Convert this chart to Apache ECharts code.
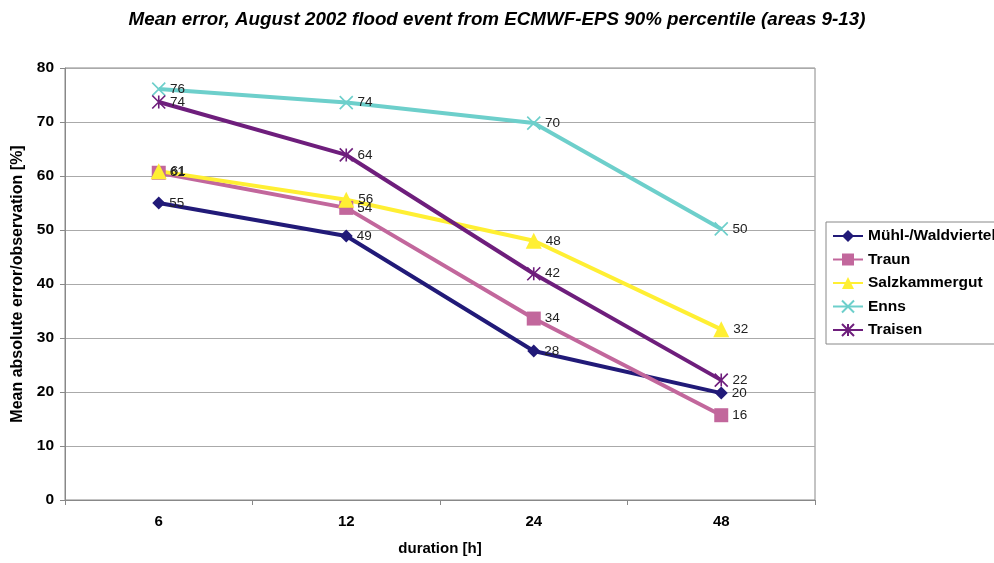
<!DOCTYPE html>
<html>
<head>
<meta charset="utf-8">
<script src="https://cdn.jsdelivr.net/npm/echarts@6/dist/echarts.min.js"></script>
<style>html,body{margin:0;padding:0;background:#fff;}#c{width:994px;height:563px;}</style>
</head>
<body>
<div id="c"></div>
<script>
var categories = ['6', '12', '24', '48'];
var muehl = [55.0, 48.9, 27.6, 19.8];
var traun = [60.6, 54.1, 33.6, 15.7];
var salz = [60.9, 55.6, 48.0, 31.6];
var enns = [76.1, 73.6, 69.8, 50.2];
var traisen = [73.7, 63.9, 41.9, 22.2];
var seriesNames = ['Mühl-/Waldviertel', 'Traun', 'Salzkammergut', 'Enns', 'Traisen'];

var FONT = 'Liberation Sans, Arial, sans-serif';
var labelCfg = {
  show: true, position: 'right', distance: 4,
  fontFamily: FONT, fontSize: 13.5, color: '#222',
  formatter: function (p) { return Math.round(p.value); }
};
function mk(name, data, color, symbol, size, strokeOnly) {
  return {
    name: name, type: 'line', data: data,
    symbol: symbol, symbolSize: size,
    lineStyle: { color: color, width: 4 },
    itemStyle: strokeOnly ? { color: 'rgba(0,0,0,0)', borderColor: color, borderWidth: 1.6 } : { color: color },
    label: labelCfg,
    z: 2
  };
}
var chart = echarts.init(document.getElementById('c'));
chart.setOption({
  animation: false,
  backgroundColor: '#fff',
  title: {
    text: 'Mean error, August 2002 flood event from ECMWF-EPS 90% percentile (areas 9-13)',
    left: 'center', top: 5,
    textStyle: { fontFamily: FONT, fontSize: 18.8, fontWeight: 'bold', fontStyle: 'italic', color: '#000' }
  },
  legend: {
    orient: 'vertical', left: 826, top: 222,
    backgroundColor: '#fff', borderColor: '#888', borderWidth: 1,
    padding: [6, 20, 6, 6], itemGap: 7.5, itemWidth: 30, itemHeight: 15,
    textStyle: { fontFamily: FONT, fontSize: 15.5, fontWeight: 'bold', color: '#000', lineHeight: 16 },
    data: seriesNames
  },
  grid: { left: 65, right: 179, top: 68, bottom: 63, show: true, borderColor: '#888', borderWidth: 1, backgroundColor: '#fff' },
  xAxis: {
    type: 'category', data: categories, boundaryGap: true,
    name: 'duration [h]', nameLocation: 'middle', nameGap: 41,
    nameTextStyle: { fontFamily: FONT, fontSize: 15, fontWeight: 'bold', color: '#000' },
    axisLine: { lineStyle: { color: '#888', width: 1 } },
    axisTick: { show: true, length: 5, lineStyle: { color: '#888' } },
    axisLabel: { fontFamily: FONT, fontSize: 15, fontWeight: 'bold', color: '#000', margin: 14 }
  },
  yAxis: {
    type: 'value', min: 0, max: 80, interval: 10,
    name: 'Mean absolute error/observation [%]', nameLocation: 'middle', nameGap: 37,
    nameTextStyle: { fontFamily: FONT, fontSize: 16, fontWeight: 'bold', color: '#000' },
    axisLine: { show: true, lineStyle: { color: '#888', width: 1 } },
    axisTick: { show: true, length: 5, lineStyle: { color: '#888' } },
    axisLabel: { fontFamily: FONT, fontSize: 15.5, fontWeight: 'bold', color: '#000', margin: 11 },
    splitLine: { show: true, lineStyle: { color: '#aaa', width: 1 } }
  },
  series: [
    mk(seriesNames[0], muehl, '#211A78', 'diamond', 13, false),
    mk(seriesNames[1], traun, '#C2679C', 'rect', 14, false),
    mk(seriesNames[2], salz, '#FFEF33', 'triangle', 16, false),
    mk(seriesNames[3], enns, '#6DCFCB', 'path://M0,0L10,10M10,0L0,10', 13, true),
    mk(seriesNames[4], traisen, '#6E1E7C', 'path://M0,0L10,10M10,0L0,10M5,0L5,10', 13, true)
  ]
});
</script>
</body>
</html>
